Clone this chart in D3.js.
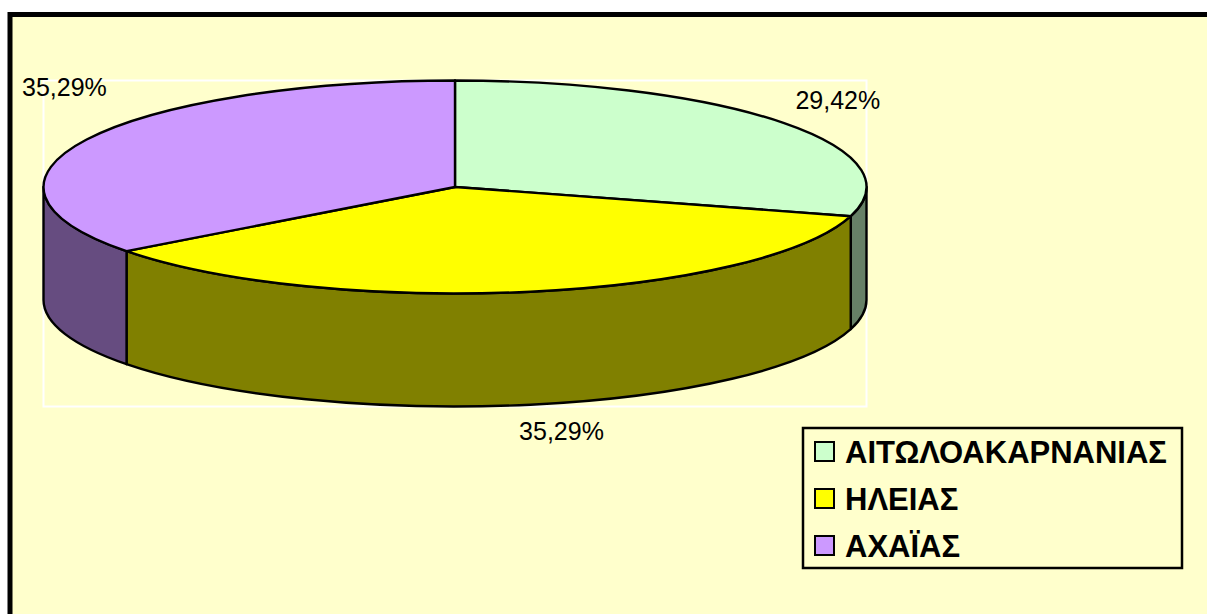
<!DOCTYPE html>
<html>
<head>
<meta charset="utf-8">
<script src="https://cdn.jsdelivr.net/npm/d3@7"></script>
<style>
  html, body { margin: 0; padding: 0; background: #ffffff; }
  svg { display: block; }
</style>
</head>
<body>
<svg id="chart" width="1207" height="614"></svg>
<script>
// ---- data ----
const categories = ["ΑΙΤΩΛΟΑΚΑΡΝΑΝΙΑΣ", "ΗΛΕΙΑΣ", "ΑΧΑΪΑΣ"];
const values = [29.42, 35.29, 35.29];
const labels = ["29,42%", "35,29%", "35,29%"];
const topColors = ["#CCFFCC", "#FFFF00", "#CC99FF"];
const sideColors = ["#668066", "#808000", "#664C80"];

// ---- layout ----
const W = 1207, H = 614;
const cx = 455, cy = 187, rx = 411.5, ry = 106.5, depth = 113;
const labelNudge = [[15, 0], [22, -10], [22, -36]];

const svg = d3.select("#chart");

// background + outer border
svg.append("rect").attr("x", 0).attr("y", 0).attr("width", W).attr("height", H).attr("fill", "#ffffff");
svg.append("rect").attr("x", 10).attr("y", 14.5).attr("width", W + 20).attr("height", H + 20)
  .attr("fill", "#FFFFCC").attr("stroke", "#000").attr("stroke-width", 5);

// plot area (white thin frame)
svg.append("rect").attr("x", cx - rx).attr("y", cy - ry).attr("width", 2 * rx).attr("height", 2 * ry + depth)
  .attr("fill", "none").attr("stroke", "#ffffff").attr("stroke-width", 2);

const pie = d3.pie().sort(null).value(d => d).startAngle(0).endAngle(2 * Math.PI);
const arcs = pie(values);

// angle -> ellipse position (clockwise from 12 o'clock)
const px = a => cx + rx * Math.sin(a);
const py = a => cy - ry * Math.cos(a);

function topPath(d) {
  const a0 = d.startAngle, a1 = d.endAngle;
  const large = (a1 - a0) > Math.PI ? 1 : 0;
  return `M${cx},${cy} L${px(a0)},${py(a0)} A${rx},${ry} 0 ${large} 1 ${px(a1)},${py(a1)} Z`;
}

function sidePath(d) {
  const s0 = Math.max(d.startAngle, Math.PI / 2);
  const s1 = Math.min(d.endAngle, 3 * Math.PI / 2);
  if (s1 <= s0) return null;
  const large = (s1 - s0) > Math.PI ? 1 : 0;
  return `M${px(s0)},${py(s0)} A${rx},${ry} 0 ${large} 1 ${px(s1)},${py(s1)} ` +
         `L${px(s1)},${py(s1) + depth} A${rx},${ry} 0 ${large} 0 ${px(s0)},${py(s0) + depth} Z`;
}

const g = svg.append("g");
arcs.forEach((d, i) => {
  const p = sidePath(d);
  if (p) g.append("path").attr("d", p).attr("fill", sideColors[i])
    .attr("stroke", "#000").attr("stroke-width", 2.4).attr("stroke-linejoin", "round");
});
arcs.forEach((d, i) => {
  g.append("path").attr("d", topPath(d)).attr("fill", topColors[i])
    .attr("stroke", "#000").attr("stroke-width", 2.4).attr("stroke-linejoin", "round");
});

// data labels
arcs.forEach((d, i) => {
  const m = (d.startAngle + d.endAngle) / 2;
  let x = cx + rx * 1.12 * Math.sin(m);
  let y = cy - ry * 1.35 * Math.cos(m) + (Math.cos(m) < 0 ? depth : 0);
  x += labelNudge[i][0];
  y += labelNudge[i][1];
  svg.append("text").attr("x", x).attr("y", y + 9)
    .attr("text-anchor", "middle")
    .attr("font-family", "Liberation Sans, Arial, sans-serif")
    .attr("font-size", 25)
    .attr("fill", "#000")
    .text(labels[i]);
});

// legend
const lg = svg.append("g");
lg.append("rect").attr("x", 803).attr("y", 428).attr("width", 379).attr("height", 140)
  .attr("fill", "none").attr("stroke", "#000").attr("stroke-width", 2.5);
categories.forEach((c, i) => {
  const yc = 452 + i * 47;
  lg.append("rect").attr("x", 815).attr("y", yc - 10).attr("width", 19).attr("height", 19)
    .attr("fill", topColors[i]).attr("stroke", "#000").attr("stroke-width", 2);
  lg.append("text").attr("x", 845).attr("y", yc + 11)
    .attr("font-family", "Liberation Sans, Arial, sans-serif")
    .attr("font-weight", "bold").attr("font-size", 31)
    .attr("fill", "#000").text(c);
});
</script>
</body>
</html>
